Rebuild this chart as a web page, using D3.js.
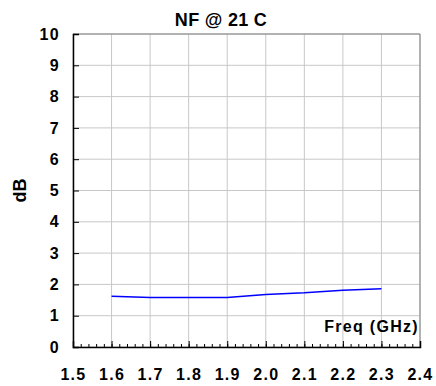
<!DOCTYPE html>
<html>
<head>
<meta charset="utf-8">
<script src="https://cdn.jsdelivr.net/npm/d3@7"></script>
<style>
  body { margin: 0; background: #fff; }
  text { font-family: "Liberation Sans", Arial, sans-serif; font-weight: bold; fill: #000; }
</style>
</head>
<body>
<div id="chart"></div>
<script>
// Data
const freqs = [1.6, 1.7, 1.8, 1.9, 2.0, 2.1, 2.2, 2.3];
const nfValues = [1.62, 1.58, 1.58, 1.58, 1.68, 1.73, 1.81, 1.86];
const xTicks = [1.5, 1.6, 1.7, 1.8, 1.9, 2.0, 2.1, 2.2, 2.3, 2.4];
const yTicks = [0, 1, 2, 3, 4, 5, 6, 7, 8, 9, 10];

const width = 436, height = 386;
const margin = { top: 34, right: 16, bottom: 39, left: 73 };

const svg = d3.select('#chart')
  .append('svg')
  .attr('width', width)
  .attr('height', height);

const xScale = d3.scaleLinear()
  .domain([1.5, 2.4])
  .range([margin.left, width - margin.right]);

const yScale = d3.scaleLinear()
  .domain([0, 10])
  .range([height - margin.bottom, margin.top]);

const x0 = xScale.range()[0], x1 = xScale.range()[1];
const y0 = yScale.range()[0], y1 = yScale.range()[1];

// Gridlines
svg.append('g')
  .selectAll('line')
  .data(xTicks)
  .join('line')
  .attr('x1', d => xScale(d)).attr('x2', d => xScale(d))
  .attr('y1', y1).attr('y2', y0)
  .attr('stroke', '#c8c8c8');

svg.append('g')
  .selectAll('line')
  .data(yTicks)
  .join('line')
  .attr('x1', x0).attr('x2', x1)
  .attr('y1', d => yScale(d)).attr('y2', d => yScale(d))
  .attr('stroke', '#c8c8c8');

// Top / right frame
svg.append('path')
  .attr('d', `M${x0},${y1}H${x1}V${y0}`)
  .attr('fill', 'none')
  .attr('stroke', '#808080');

// Minor ticks on x
svg.append('g')
  .attr('transform', `translate(0, ${y0})`)
  .call(d3.axisBottom(xScale).tickValues(d3.range(0, 46).map(i => 1.5 + i * 0.02)).tickSize(-3).tickFormat(''))
  .call(g => g.select('.domain').remove())
  .call(g => g.selectAll('line').attr('stroke', '#000'));

// X axis
svg.append('g')
  .attr('transform', `translate(0, ${y0})`)
  .call(d3.axisBottom(xScale).tickValues(xTicks).tickSize(-6).tickPadding(22).tickFormat(d3.format('.1f')))
  .call(g => g.select('.domain').attr('stroke-width', 1.5))
  .call(g => g.selectAll('text').attr('font-size', 16).style('letter-spacing', '1.3px'));

// Y axis
svg.append('g')
  .attr('transform', `translate(${x0}, 0)`)
  .call(d3.axisLeft(yScale).tickValues(yTicks).tickSize(-6).tickPadding(13).tickFormat(d3.format('d')))
  .call(g => g.select('.domain').attr('stroke-width', 1.5))
  .call(g => g.selectAll('text').attr('font-size', 16).style('letter-spacing', '1.3px'));

// NF line
const line = d3.line()
  .x((d, i) => xScale(freqs[i]))
  .y(d => yScale(d));

svg.append('path')
  .datum(nfValues)
  .attr('d', line)
  .attr('fill', 'none')
  .attr('stroke', '#0000ff')
  .attr('stroke-width', 1.5);

// Title and axis labels
svg.append('text')
  .attr('x', 221)
  .attr('y', 25.5)
  .attr('text-anchor', 'middle')
  .attr('font-size', 18)
  .style('letter-spacing', '0.3px')
  .text('NF @ 21 C');

svg.append('text')
  .attr('x', x1 - 1)
  .attr('y', 332)
  .attr('text-anchor', 'end')
  .attr('font-size', 16)
  .style('letter-spacing', '1.3px')
  .text('Freq (GHz)');

svg.append('text')
  .attr('transform', `translate(26, ${(y0 + y1) / 2}) rotate(-90)`)
  .attr('text-anchor', 'middle')
  .attr('font-size', 18)
  .text('dB');
</script>
</body>
</html>
